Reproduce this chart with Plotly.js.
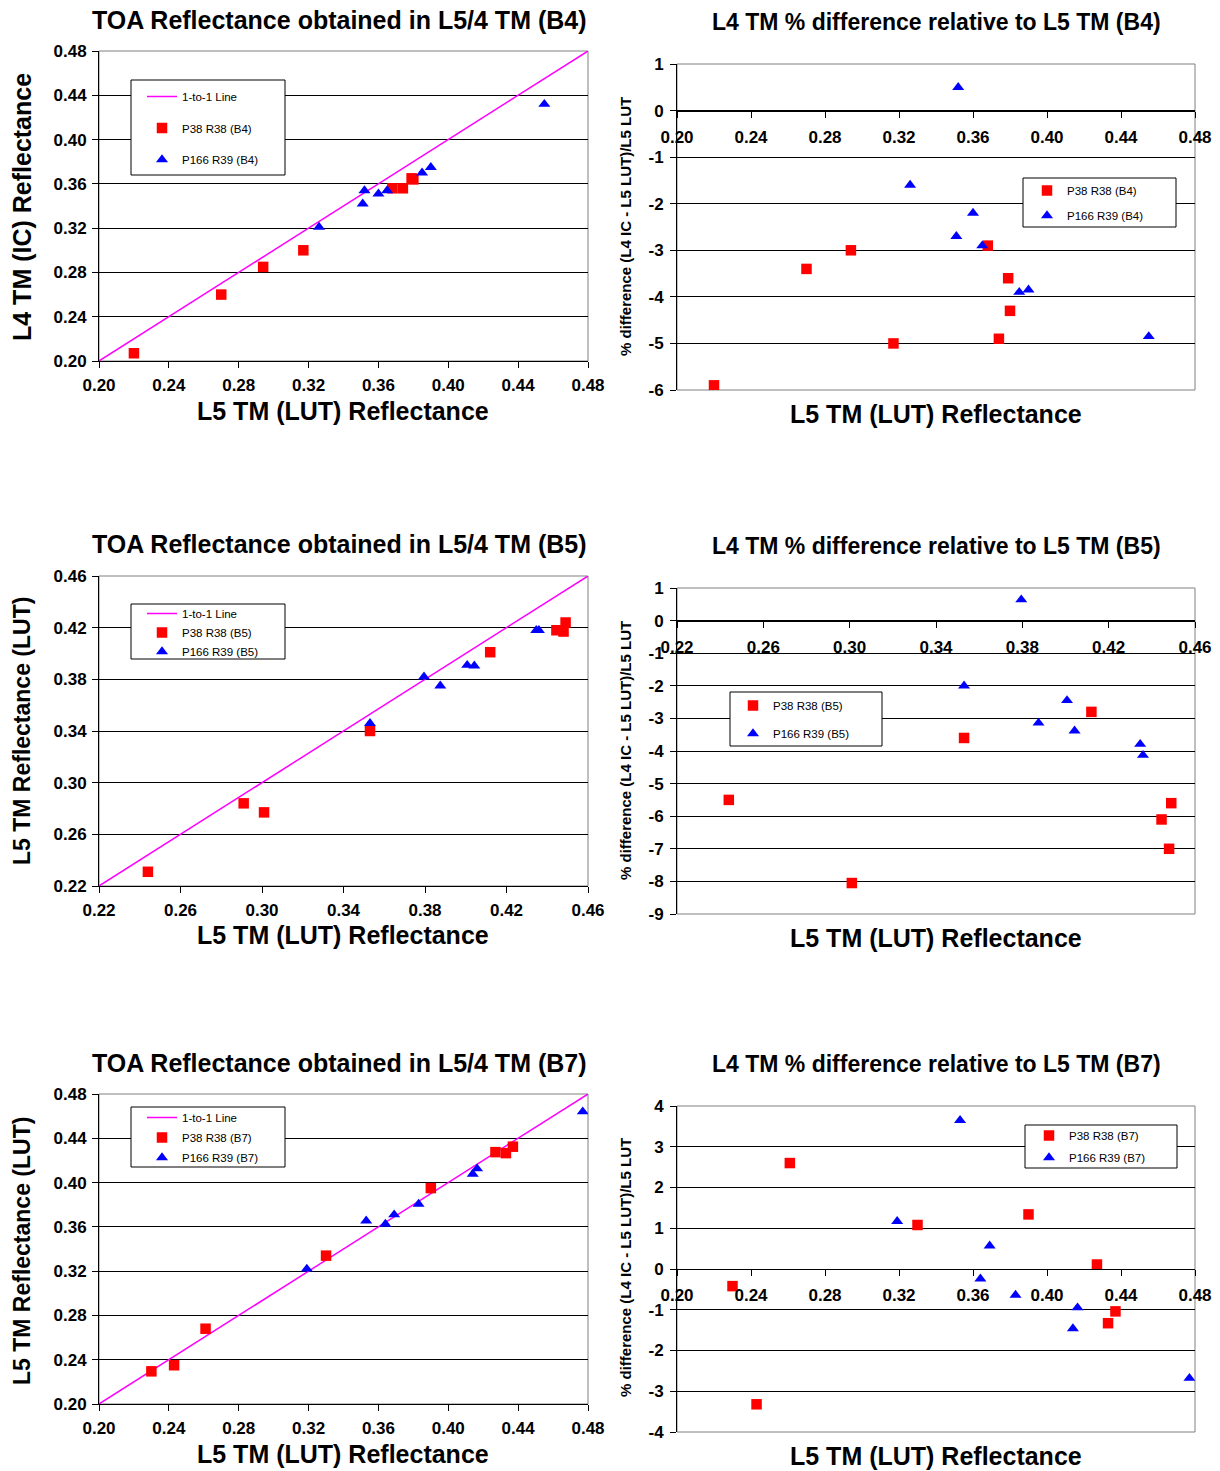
<!DOCTYPE html>
<html>
<head>
<meta charset="utf-8">
<script src="https://cdn.plot.ly/plotly-3.0.1.min.js"></script>
<style>
  html, body { margin: 0; padding: 0; background: #ffffff; }
  #chart { width: 1220px; height: 1471px; }
</style>
</head>
<body>
<div id="chart"></div>
<script>
// ---------------- DATA ----------------
const seriesRedName = ["P38 R38 (B4)", "P38 R38 (B5)", "P38 R38 (B7)"];
const seriesBlueName = ["P166 R39 (B4)", "P166 R39 (B5)", "P166 R39 (B7)"];
const oneToOneName = "1-to-1 Line";

// Band 4
const b4RedL5 = [0.220, 0.270, 0.294, 0.317, 0.368, 0.374, 0.379, 0.380];
const b4RedL4 = [0.207, 0.260, 0.285, 0.300, 0.356, 0.356, 0.365, 0.364];
const b4RedDiff = [-5.9, -3.4, -3.0, -5.0, -2.9, -4.9, -3.6, -4.3];
const b4BlueL5 = [0.326, 0.351, 0.352, 0.360, 0.365, 0.385, 0.390, 0.455];
const b4BlueL4 = [0.321, 0.342, 0.354, 0.351, 0.354, 0.370, 0.375, 0.432];
const b4BlueDiff = [-1.6, -2.7, 0.5, -2.2, -2.9, -3.9, -3.85, -4.85];

// Band 5
const b5RedL5 = [0.244, 0.291, 0.301, 0.353, 0.412, 0.4445, 0.448, 0.449];
const b5RedL4 = [0.231, 0.284, 0.277, 0.340, 0.401, 0.418, 0.417, 0.424];
const b5RedDiff = [-5.5, -2.4, -8.05, -3.6, -2.8, -6.1, -7.0, -5.6];
const b5BlueL5 = [0.353, 0.3795, 0.3875, 0.4007, 0.4042, 0.4346, 0.4359];
const b5BlueL4 = [0.346, 0.382, 0.375, 0.391, 0.3905, 0.418, 0.418];
const b5BlueDiff = [-2.0, 0.64, -3.14, -2.45, -3.38, -3.79, -4.13];

// Band 7
const b7RedL5 = [0.230, 0.243, 0.261, 0.330, 0.390, 0.427, 0.433, 0.437];
const b7RedL4 = [0.2295, 0.235, 0.268, 0.334, 0.395, 0.4275, 0.4266, 0.4324];
const b7RedDiff = [-0.42, -3.32, 2.60, 1.08, 1.34, 0.11, -1.33, -1.04];
const b7BlueL5 = [0.319, 0.353, 0.364, 0.369, 0.383, 0.414, 0.4165, 0.477];
const b7BlueL4 = [0.322, 0.3655, 0.3625, 0.371, 0.3806, 0.4077, 0.4125, 0.464];
const b7BlueDiff = [1.17, 3.65, -0.24, 0.57, -0.64, -1.46, -0.95, -2.68];

// 1-to-1 line end points (axis extents)
const oneLineB4 = [0.20, 0.48];
const oneLineB5 = [0.22, 0.46];
const oneLineB7 = [0.20, 0.48];

// Tick values / labels
const reflTicksB4 = [0.20, 0.24, 0.28, 0.32, 0.36, 0.40, 0.44, 0.48];
const reflTicksB5 = [0.22, 0.26, 0.30, 0.34, 0.38, 0.42, 0.46];
const reflTicksB7 = [0.20, 0.24, 0.28, 0.32, 0.36, 0.40, 0.44, 0.48];
const diffTicksB4 = [-6, -5, -4, -3, -2, -1, 0, 1];
const diffLabelsB4 = ["-6", "-5", "-4", "-3", "-2", "-1", "0", "1"];
const diffTicksB5 = [-9, -8, -7, -6, -5, -4, -3, -2, -1, 0, 1];
const diffLabelsB5 = ["-9", "-8", "-7", "-6", "-5", "-4", "-3", "-2", "-1", "0", "1"];
const diffTicksB7 = [-4, -3, -2, -1, 0, 1, 2, 3, 4];
const diffLabelsB7 = ["-4", "-3", "-2", "-1", "0", "1", "2", "3", "4"];

const reflTitles = ["TOA Reflectance obtained in L5/4 TM (B4)", "TOA Reflectance obtained in L5/4 TM (B5)", "TOA Reflectance obtained in L5/4 TM (B7)"];
const diffTitles = ["L4 TM % difference relative to L5 TM (B4)", "L4 TM % difference relative to L5 TM (B5)", "L4 TM % difference relative to L5 TM (B7)"];
const reflYTitles = ["L4 TM (IC) Reflectance", "L5 TM Reflectance (LUT)", "L5 TM Reflectance (LUT)"];
const xTitle = "L5 TM (LUT) Reflectance";
const diffYTitle = "% difference (L4 IC - L5 LUT)/L5 LUT";

// ---------------- LAYOUT HELPERS ----------------
const W = 1220, H = 1471;
const fx = p => p / W;
const fy = p => 1 - p / H;
const FONT = "Liberation Sans, Arial, Helvetica, sans-serif";
const RED = "#FF0000", BLUE = "#0000FF", MAGENTA = "#FF00FF";

const rows = [
  { refl: [51, 361], diff: [64, 390], title: [20, 22], xt: [411, 414], yc: [207, 227], ytSize: 25,
    leg1: { box: [131, 80, 285, 175], x: 142, top: 82, gap: 12.5 },
    leg2: { box: [1023, 178, 1176, 227], x: 1027, top: 176, gap: 6 } },
  { refl: [576, 886], diff: [588, 914], title: [544, 546], xt: [935, 938], yc: [731, 751], ytSize: 23,
    leg1: { box: [131, 604, 285, 659], x: 142, top: 599, gap: 0 },
    leg2: { box: [730, 692, 882, 746], x: 733, top: 691, gap: 9 } },
  { refl: [1094, 1404], diff: [1106, 1432], title: [1063, 1064], xt: [1454, 1456], yc: [1251, 1268], ytSize: 23,
    leg1: { box: [131, 1107, 285, 1167], x: 142, top: 1103, gap: 1 },
    leg2: { box: [1025, 1125, 1177, 1168], x: 1029, top: 1121, gap: 3 } }
];
const leftX = [99, 588], rightX = [677, 1195];

const bands = [
  { redL5: b4RedL5, redL4: b4RedL4, redD: b4RedDiff, blueL5: b4BlueL5, blueL4: b4BlueL4, blueD: b4BlueDiff,
    line: oneLineB4, rt: reflTicksB4, dt: diffTicksB4, dl: diffLabelsB4 },
  { redL5: b5RedL5, redL4: b5RedL4, redD: b5RedDiff, blueL5: b5BlueL5, blueL4: b5BlueL4, blueD: b5BlueDiff,
    line: oneLineB5, rt: reflTicksB5, dt: diffTicksB5, dl: diffLabelsB5 },
  { redL5: b7RedL5, redL4: b7RedL4, redD: b7RedDiff, blueL5: b7BlueL5, blueL4: b7BlueL4, blueD: b7BlueDiff,
    line: oneLineB7, rt: reflTicksB7, dt: diffTicksB7, dl: diffLabelsB7 }
];

const tickFont = { family: FONT, size: 17, color: "#000", weight: "bold" };
const legFont = { family: FONT, size: 11.5, color: "#000" };
const squareMarker = { symbol: "square", size: 10.5, color: RED };
const triMarker = { symbol: "triangle-up", size: 10.5, color: BLUE };
const bold = (size) => ({ family: FONT, size: size, weight: "bold", color: "#000" });

const data = [];
const layout = {
  width: W, height: H,
  margin: { l: 0, r: 0, t: 0, b: 0, pad: 0 },
  paper_bgcolor: "#ffffff", plot_bgcolor: "#ffffff",
  font: { family: FONT, color: "#000" },
  showlegend: true,
  annotations: [], shapes: []
};

function axName(i) { return i === 1 ? "" : String(i); }

bands.forEach((b, r) => {
  const row = rows[r];
  const iL = 2 * r + 1, iR = 2 * r + 2;
  const xL = "x" + axName(iL), yL = "y" + axName(iL);
  const xR = "x" + axName(iR), yR = "y" + axName(iR);
  const legL = r === 0 ? "legend" : "legend" + (2 * r + 1);
  const legR = "legend" + (2 * r + 2);
  const lo = b.rt[0], hi = b.rt[b.rt.length - 1];
  const eps = 1e-6;

  // ---- reflectance panel ----
  data.push({ type: "scatter", mode: "lines", x: b.line, y: b.line, xaxis: xL, yaxis: yL,
    name: oneToOneName, line: { color: MAGENTA, width: 1.5 }, legend: legL, legendgroup: "l" + r + "a", hoverinfo: "skip" });
  data.push({ type: "scatter", mode: "markers", x: b.redL5, y: b.redL4, xaxis: xL, yaxis: yL,
    name: seriesRedName[r], marker: squareMarker, legend: legL, legendgroup: "l" + r + "b" });
  data.push({ type: "scatter", mode: "markers", x: b.blueL5, y: b.blueL4, xaxis: xL, yaxis: yL,
    name: seriesBlueName[r], marker: triMarker, legend: legL, legendgroup: "l" + r + "c" });

  layout["xaxis" + axName(iL)] = {
    domain: [fx(leftX[0]), fx(leftX[1])], anchor: yL, range: [lo - eps, hi + eps],
    tickvals: b.rt, tickformat: ".2f", showgrid: false, zeroline: false,
    showline: true, linecolor: "#000", linewidth: 1, ticks: "outside", ticklen: 6, tickcolor: "#000",
    tickfont: tickFont, ticklabelstandoff: 3, fixedrange: true
  };
  layout["yaxis" + axName(iL)] = {
    domain: [fy(row.refl[1]), fy(row.refl[0])], anchor: xL, range: [lo - eps, hi + eps],
    tickvals: b.rt, tickformat: ".2f", showgrid: true, gridcolor: "#000", gridwidth: 1, zeroline: false,
    showline: true, linecolor: "#000", linewidth: 1, ticks: "outside", ticklen: 6, tickcolor: "#000",
    tickfont: tickFont, ticklabelstandoff: 2, fixedrange: true
  };

  // ---- difference panel ----
  data.push({ type: "scatter", mode: "markers", x: b.redL5, y: b.redD, xaxis: xR, yaxis: yR,
    name: seriesRedName[r], marker: squareMarker, legend: legR, legendgroup: "r" + r + "b" });
  data.push({ type: "scatter", mode: "markers", x: b.blueL5, y: b.blueD, xaxis: xR, yaxis: yR,
    name: seriesBlueName[r], marker: triMarker, legend: legR, legendgroup: "r" + r + "c" });

  const dmin = b.dt[0], dmax = b.dt[b.dt.length - 1];
  const yDom = [fy(row.diff[1]), fy(row.diff[0])];
  const zeroPos = yDom[0] + (0 - dmin) / (dmax - dmin) * (yDom[1] - yDom[0]);
  layout["xaxis" + axName(iR)] = {
    domain: [fx(rightX[0]), fx(rightX[1])], anchor: "free", position: zeroPos, range: [lo - eps, hi + eps],
    tickvals: b.rt, tickformat: ".2f", showgrid: false, zeroline: false,
    showline: true, linecolor: "#000", linewidth: 1, ticks: "outside", ticklen: 6, tickcolor: "#000",
    tickfont: tickFont, ticklabelstandoff: 5, fixedrange: true
  };
  layout["yaxis" + axName(iR)] = {
    domain: yDom, anchor: xR, range: [dmin, dmax],
    tickvals: b.dt, ticktext: b.dl, showgrid: true, gridcolor: "#000", gridwidth: 1, zeroline: false,
    showline: true, linecolor: "#000", linewidth: 1, ticks: "outside", ticklen: 6, tickcolor: "#000",
    tickfont: tickFont, ticklabelstandoff: 3, fixedrange: true
  };

  // frames
  [[xL, yL], [xR, yR]].forEach(([xa, ya]) => {
    layout.shapes.push({ type: "rect", xref: xa + " domain", yref: ya + " domain", x0: 0, x1: 1, y0: 0, y1: 1,
      line: { color: "#808080", width: 1 }, fillcolor: "rgba(0,0,0,0)", layer: "below" });
  });

  // legend boxes (opaque, like the spreadsheet legend)
  [row.leg1, row.leg2].forEach(L => {
    layout.shapes.push({ type: "rect", xref: "paper", yref: "paper",
      x0: fx(L.box[0]), x1: fx(L.box[2]), y0: fy(L.box[3]), y1: fy(L.box[1]),
      line: { color: "#000", width: 1 }, fillcolor: "#ffffff", layer: "above" });
  });
  layout[legL] = { x: fx(row.leg1.x), y: fy(row.leg1.top), xanchor: "left", yanchor: "top",
    bgcolor: "rgba(0,0,0,0)", borderwidth: 0, font: legFont, tracegroupgap: row.leg1.gap, traceorder: "grouped" };
  layout[legR] = { x: fx(row.leg2.x), y: fy(row.leg2.top), xanchor: "left", yanchor: "top",
    bgcolor: "rgba(0,0,0,0)", borderwidth: 0, font: legFont, tracegroupgap: row.leg2.gap, traceorder: "grouped" };

  // titles
  layout.annotations.push({ text: reflTitles[r], xref: "paper", yref: "paper", x: fx(340), y: fy(row.title[0]),
    xanchor: "center", yanchor: "middle", showarrow: false, font: bold(25) });
  layout.annotations.push({ text: diffTitles[r], xref: "paper", yref: "paper", x: fx(936), y: fy(row.title[1]),
    xanchor: "center", yanchor: "middle", showarrow: false, font: bold(23) });
  // x titles
  layout.annotations.push({ text: xTitle, xref: "paper", yref: "paper", x: fx(343), y: fy(row.xt[0]),
    xanchor: "center", yanchor: "middle", showarrow: false, font: bold(25) });
  layout.annotations.push({ text: xTitle, xref: "paper", yref: "paper", x: fx(936), y: fy(row.xt[1]),
    xanchor: "center", yanchor: "middle", showarrow: false, font: bold(25) });
  // y titles
  layout.annotations.push({ text: reflYTitles[r], xref: "paper", yref: "paper", x: fx(22), y: fy(row.yc[0]),
    xanchor: "center", yanchor: "middle", textangle: -90, showarrow: false, font: bold(row.ytSize) });
  layout.annotations.push({ text: diffYTitle, xref: "paper", yref: "paper", x: fx(625), y: fy(row.yc[1]),
    xanchor: "center", yanchor: "middle", textangle: -90, showarrow: false, font: bold(15) });
});

Plotly.newPlot("chart", data, layout, { staticPlot: true, displayModeBar: false });
</script>
</body>
</html>
